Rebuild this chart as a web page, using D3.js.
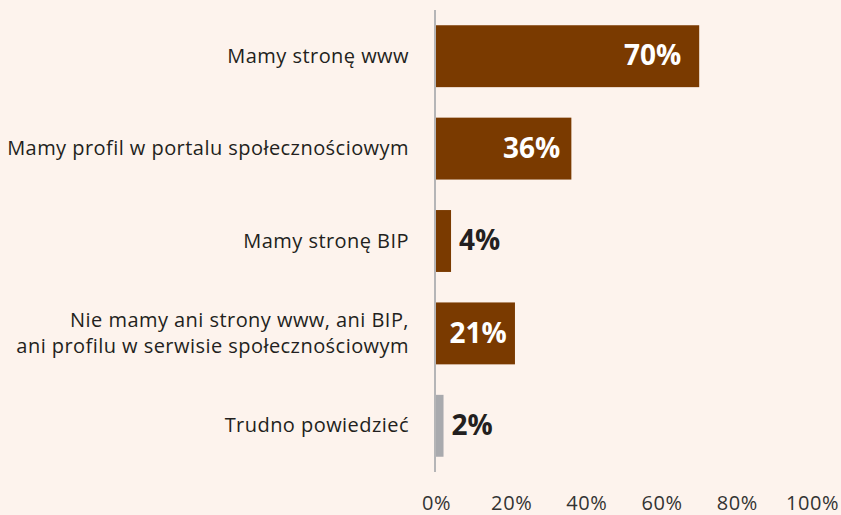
<!DOCTYPE html>
<html>
<head>
<meta charset="utf-8">
<script src="https://cdn.jsdelivr.net/npm/d3@7"></script>
<style>
  html, body { margin: 0; padding: 0; background: #fdf3ed; }
  svg { display: block; }
</style>
</head>
<body>
<svg id="chart" width="841" height="515"></svg>
<script>
// Categories (each entry is a list of label lines) and their shares in percent
const categories = [
  ["Mamy stronę www"],
  ["Mamy profil w portalu społecznościowym"],
  ["Mamy stronę BIP"],
  ["Nie mamy ani strony www, ani BIP,", "ani profilu w serwisie społecznościowym"],
  ["Trudno powiedzieć"]
];
const values = [70, 36, 4, 21, 2];
const barColors = ["#7a3a00", "#7a3a00", "#7a3a00", "#7a3a00", "#a9aaae"];
const tickValues = [0, 20, 40, 60, 80, 100];
const tickLabels = ["0%", "20%", "40%", "60%", "80%", "100%"];

const W = 841, H = 515;
const svg = d3.select("#chart");
const font = "'Open Sans', 'Liberation Sans', sans-serif";

const x = d3.scaleLinear().domain([0, 100]).range([436, 812]);
const y = d3.scaleBand()
  .domain(d3.range(categories.length))
  .range([10, 472])
  .paddingInner(0.33)
  .paddingOuter(0.165);

// Bars
svg.append("g").selectAll("rect")
  .data(values)
  .join("rect")
  .attr("x", x(0))
  .attr("y", (d, i) => y(i))
  .attr("width", d => x(d) - x(0))
  .attr("height", y.bandwidth())
  .attr("fill", (d, i) => barColors[i]);

// Vertical baseline
svg.append("line")
  .attr("x1", x(0) - 1).attr("x2", x(0) - 1)
  .attr("y1", y.range()[0]).attr("y2", y.range()[1])
  .attr("stroke", "#b5b5b7")
  .attr("stroke-width", 2);

// Category labels
const catG = svg.append("g")
  .attr("font-family", font)
  .attr("font-size", 20)
  .attr("letter-spacing", "0.45px")
  .attr("fill", "#231f20")
  .attr("text-anchor", "end");
categories.forEach((lines, i) => {
  const cy = y(i) + y.bandwidth() / 2;
  const lineH = 26.5;
  const t = catG.append("text")
    .attr("x", x(0) - 27)
    .attr("y", cy - (lines.length - 1) * lineH / 2);
  lines.forEach((ln, k) => {
    t.append("tspan")
      .attr("x", x(0) - 27)
      .attr("dy", k === 0 ? "0.33em" : lineH)
      .text(ln);
  });
});

// Value labels: inside the bar (white) when wide enough, otherwise just past its end
const valG = svg.append("g")
  .attr("font-family", font)
  .attr("font-weight", 700)
  .attr("font-size", 28);
values.forEach((v, i) => {
  const cy = y(i) + y.bandwidth() / 2;
  const w = x(v) - x(0);
  const inside = v > 10;
  valG.append("text")
    .attr("x", inside ? x(v) - (4 + w * 0.053) : x(v) + 8)
    .attr("y", cy)
    .attr("dy", "0.33em")
    .attr("text-anchor", inside ? "end" : "start")
    .attr("fill", inside ? "#ffffff" : "#231f20")
    .text(v + "%");
});

// Bottom axis tick labels
const axis = d3.axisBottom(x)
  .tickValues(tickValues)
  .tickFormat((d, i) => tickLabels[i])
  .tickSize(0)
  .tickPadding(0);
const axG = svg.append("g")
  .attr("transform", "translate(0,496)")
  .call(axis);
axG.select(".domain").remove();
axG.selectAll("text")
  .attr("font-family", font)
  .attr("font-size", 20)
  .attr("letter-spacing", "0.6px")
  .attr("fill", "#333333")
  .attr("dy", "0.71em");
</script>
</body>
</html>
